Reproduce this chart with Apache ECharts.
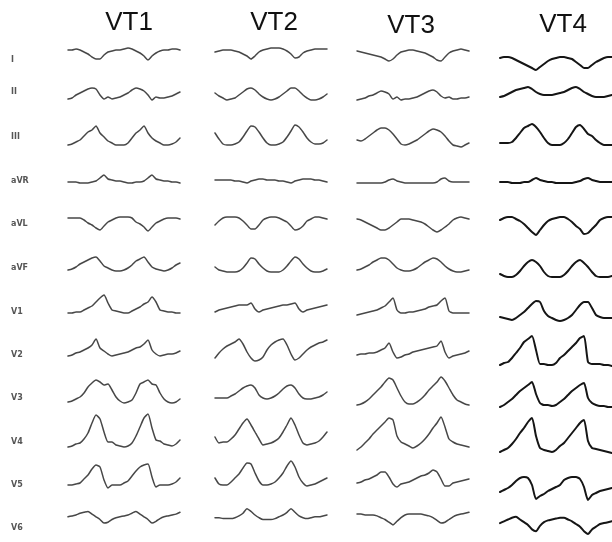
<!DOCTYPE html>
<html><head><meta charset="utf-8">
<script src="https://cdn.jsdelivr.net/npm/echarts@6/dist/echarts.min.js"></script>
<style>html,body{margin:0;padding:0;background:#fff}#c{width:612px;height:542px}</style>
</head><body><div id="c"></div>
<script>
// ---- categories ----
const columns = ['VT1', 'VT2', 'VT3', 'VT4'];
const leads = ['I', 'II', 'III', 'aVR', 'aVL', 'aVF', 'V1', 'V2', 'V3', 'V4', 'V5', 'V6'];

// ---- VT1 traces (amplitude, 29 samples) ----
const vt1_I   = [10,10,11,10,8,6,3,1,1,5,8,9,10,10,11,12,11,9,7,4,0,4,7,9,10,10,11,11,10];
const vt1_II  = [-7,-6,-3,-1,1,3,4,3,-3,-7,-5,-7,-6,-5,-3,-1,2,4,3,1,-3,-8,-5,-6,-6,-5,-4,-2,0];
const vt1_III = [-8,-7,-5,-3,1,5,7,11,4,0,-4,-6,-8,-8,-8,-6,-1,4,7,11,4,-1,-4,-6,-8,-8,-7,-5,-1];
const vt1_aVR = [-1,-1,-1,-2,-2,-2,-1,0,3,6,2,1,0,0,-1,-2,-2,-1,-1,0,3,6,2,1,0,0,-1,-1,-2];
const vt1_aVL = [6,6,6,6,4,1,-1,-4,-6,-2,2,4,6,7,7,7,6,2,0,-3,-7,-3,1,3,5,6,6,6,5];
const vt1_aVF = [-2,-1,1,4,6,8,10,11,7,2,0,-2,-3,-3,-2,0,3,7,9,11,6,1,-1,-2,-3,-2,0,3,5];
const vt1_V1  = [-1,-1,0,0,2,4,6,10,14,17,9,2,1,0,-1,-1,1,3,5,8,10,15,10,2,1,0,0,-1,-1];
const vt1_V2  = [-1,0,2,3,5,7,10,16,7,4,1,-1,0,1,2,3,5,7,8,11,15,5,1,-1,0,1,1,2,4];
const vt1_V3  = [-4,-3,-1,1,5,11,15,18,16,13,14,8,1,-3,-5,-4,-2,5,14,16,18,14,13,5,-1,-4,-5,-4,-1];
const vt1_V4  = [-5,-4,-2,-1,3,9,19,27,23,10,0,0,-3,-4,-5,-4,-1,6,15,24,28,14,2,1,-2,-3,-4,-2,2];
const vt1_V5  = [0,0,1,2,6,10,16,20,18,5,-3,0,0,0,2,4,9,14,18,20,21,8,-2,0,0,0,1,3,7];
const vt1_V6  = [8,9,10,12,13,14,11,8,5,1,2,5,7,8,9,10,12,14,11,8,5,1,3,6,8,9,10,11,13];

// ---- VT2 traces ----
const vt2_I   = [8,9,10,10,10,9,8,6,4,1,4,8,10,11,12,12,12,11,9,6,2,3,7,9,10,11,11,11,11];
const vt2_II  = [-1,-4,-6,-8,-7,-6,-3,0,3,4,2,-2,-5,-7,-8,-7,-5,-2,1,4,4,1,-3,-6,-8,-8,-7,-5,-2];
const vt2_III = [4,-2,-7,-8,-8,-7,-5,0,6,11,10,5,-1,-6,-8,-8,-7,-5,0,6,12,10,5,-1,-5,-7,-7,-6,-3];
const vt2_aVR = [1,1,1,1,1,0,0,-1,-2,0,1,2,2,1,1,1,0,0,-1,-2,0,1,2,2,2,1,1,0,-1];
const vt2_aVL = [-1,3,6,7,7,7,6,3,-1,-5,-5,-1,4,6,7,7,6,4,2,-2,-6,-5,-2,3,5,7,7,6,5];
const vt2_aVF = [1,-2,-3,-4,-4,-4,-3,0,5,10,9,4,0,-3,-4,-4,-4,-2,2,7,11,9,4,0,-3,-4,-4,-3,-1];
const vt2_V1  = [0,2,3,4,5,6,7,7,7,9,3,0,2,3,4,5,6,7,7,8,9,3,0,2,3,4,5,6,7];
const vt2_V2  = [-3,2,6,9,11,13,16,11,3,-3,-6,-5,-2,5,10,13,15,16,10,1,-5,-3,1,5,8,10,12,13,15];
const vt2_V3  = [0,0,0,0,2,4,7,10,12,13,10,3,0,-1,0,2,5,9,12,13,10,4,0,-1,-1,0,1,3,6];
const vt2_V4  = [5,-1,0,0,3,7,13,19,23,17,10,3,-3,-2,-1,1,4,10,17,24,17,7,-1,-3,-2,-1,1,5,10];
const vt2_V5  = [7,1,0,0,3,7,11,17,22,21,12,4,0,0,1,3,7,12,19,24,18,8,2,-1,0,1,3,5,7];
const vt2_V6  = [7,7,6,6,6,7,9,12,17,14,10,7,5,5,5,6,8,10,13,17,13,9,7,6,7,8,8,9,10];

// ---- VT3 traces ----
const vt3_I   = [9,8,7,6,5,4,3,1,-1,1,5,8,9,10,10,9,8,7,5,3,0,-1,3,7,9,10,11,10,9];
const vt3_II  = [-8,-7,-6,-4,-3,-1,1,0,-2,-7,-5,-8,-7,-7,-6,-5,-3,-1,1,2,0,-4,-6,-5,-7,-7,-6,-6,-5];
const vt3_III = [-3,-4,-2,1,4,7,9,9,7,3,-2,-7,-8,-7,-5,-3,0,3,6,8,7,5,1,-4,-8,-9,-10,-8,-6];
const vt3_aVR = [-2,-2,-2,-2,-2,-2,-2,-1,1,2,0,-1,-2,-2,-2,-2,-2,-2,-2,-2,-1,2,3,0,-1,-1,-1,-1,-1];
const vt3_aVL = [5,4,2,0,-2,-4,-6,-6,-4,-1,2,5,5,5,4,3,2,0,-3,-6,-8,-6,-3,0,4,6,7,6,5];
const vt3_aVF = [-2,-1,1,3,6,8,10,10,8,4,0,-2,-3,-3,-2,0,3,6,8,10,9,6,2,-1,-3,-4,-4,-3,-2];
const vt3_V1  = [-3,-2,-1,0,1,2,4,6,10,14,2,-1,-1,0,0,1,2,3,5,6,7,11,14,1,-1,-1,-1,-1,-1];
const vt3_V2  = [0,1,1,2,2,3,5,7,12,3,-3,-2,0,1,3,4,5,6,7,8,9,14,3,-3,-1,0,1,2,4];
const vt3_V3  = [-7,-6,-4,-1,3,7,11,16,20,18,10,2,-4,-6,-6,-4,-1,3,8,12,16,21,17,10,3,-2,-4,-6,-7];
const vt3_V4  = [-8,-5,-1,3,8,12,16,20,24,22,6,0,-2,-4,-6,-4,-1,3,8,14,19,25,15,3,0,-2,-3,-4,-5];
const vt3_V5  = [2,3,5,6,8,10,13,13,8,1,-2,1,2,3,5,7,9,10,12,15,13,6,-1,-1,2,3,4,5,6];
const vt3_V6  = [11,11,10,10,10,9,7,5,2,-1,3,7,10,11,11,11,11,10,9,7,4,1,2,5,8,10,11,12,13];

// ---- VT4 traces ----
const vt4_I   = [2,3,3,2,0,-2,-4,-6,-8,-10,-7,-4,-1,1,2,3,3,2,1,-2,-5,-8,-8,-5,-2,0,2,3,3];
const vt4_II  = [-5,-4,-2,0,2,3,4,5,3,0,-2,-3,-3,-3,-2,-1,0,2,4,5,3,0,-2,-4,-5,-5,-5,-4,-3];
const vt4_III = [-6,-6,-6,-5,-1,4,9,11,13,10,5,-1,-6,-8,-8,-8,-6,-2,4,10,12,8,3,1,-3,-6,-8,-8,-8];
const vt4_aVR = [-1,-1,-1,-2,-2,-2,-1,-1,1,3,1,0,-1,-1,-2,-2,-2,-2,-2,-1,0,2,3,1,0,-1,-1,-1,-1];
const vt4_aVL = [4,6,7,7,5,3,0,-4,-8,-11,-6,-1,3,5,6,7,7,5,2,-2,-5,-10,-9,-5,-1,4,6,7,7];
const vt4_aVF = [-6,-8,-9,-9,-7,-3,2,6,8,6,2,-4,-8,-9,-9,-9,-7,-3,2,6,8,5,1,-4,-8,-9,-9,-9,-8];
const vt4_V1  = [-5,-6,-7,-8,-6,-3,0,4,8,11,10,1,-4,-6,-8,-9,-8,-6,-3,2,7,10,10,4,-3,-5,-6,-6,-6];
const vt4_V2  = [-10,-8,-7,-3,2,7,13,16,19,5,-9,-9,-10,-10,-8,-3,0,4,8,12,17,19,-7,-9,-9,-9,-10,-10,-11];
const vt4_V3  = [-9,-7,-4,-1,3,7,10,13,16,4,-5,-7,-7,-8,-7,-4,-1,3,7,10,13,15,0,-5,-7,-8,-8,-9,-9];
const vt4_V4  = [-10,-8,-6,-2,3,9,14,20,24,6,-6,-8,-9,-10,-8,-4,-1,4,9,14,19,22,1,-6,-7,-8,-9,-10,-11];
const vt4_V5  = [-7,-5,-3,0,4,7,8,7,0,-14,-11,-9,-6,-4,-2,0,5,7,8,8,6,-2,-15,-10,-8,-6,-5,-4,-3];
const vt4_V6  = [1,3,5,7,8,5,2,-1,-6,-8,-2,2,4,5,6,7,7,5,3,0,-3,-8,-11,-6,-3,0,1,2,3];

// ---- assemble ----
const traces = [
  [vt1_I, vt1_II, vt1_III, vt1_aVR, vt1_aVL, vt1_aVF, vt1_V1, vt1_V2, vt1_V3, vt1_V4, vt1_V5, vt1_V6],
  [vt2_I, vt2_II, vt2_III, vt2_aVR, vt2_aVL, vt2_aVF, vt2_V1, vt2_V2, vt2_V3, vt2_V4, vt2_V5, vt2_V6],
  [vt3_I, vt3_II, vt3_III, vt3_aVR, vt3_aVL, vt3_aVF, vt3_V1, vt3_V2, vt3_V3, vt3_V4, vt3_V5, vt3_V6],
  [vt4_I, vt4_II, vt4_III, vt4_aVR, vt4_aVL, vt4_aVF, vt4_V1, vt4_V2, vt4_V3, vt4_V4, vt4_V5, vt4_V6]
];

// ---- layout ----
const colLeft = [68, 215, 357, 500];
const colWidth = 112;
const titleX = [129, 274, 411, 563];
const titleY = [23, 23, 26, 25];
const rowBase = [60, 92, 137, 181, 224, 268, 312, 355, 398, 442, 485, 528];
const lineColor = ['#474747', '#474747', '#474747', '#151515'];
const lineWidth = [1.5, 1.5, 1.5, 2];

const grids = [], xAxes = [], yAxes = [], series = [];
let k = 0;
columns.forEach((col, c) => {
  leads.forEach((lead, r) => {
    const d = traces[c][r];
    grids.push({ left: colLeft[c], width: colWidth, top: rowBase[r] - 40, height: 60 });
    xAxes.push({ type: 'category', gridIndex: k, data: d.map((_, i) => i), boundaryGap: false, show: false });
    yAxes.push({ type: 'value', gridIndex: k, min: -20, max: 40, show: false });
    series.push({
      name: col + ' ' + lead, type: 'line', xAxisIndex: k, yAxisIndex: k, data: d,
      symbol: 'none', smooth: 0.2, clip: false,
      lineStyle: { color: lineColor[c], width: lineWidth[c], join: 'round', cap: 'round' }
    });
    k++;
  });
});

const graphics = [];
columns.forEach((col, c) => {
  graphics.push({ type: 'text', x: titleX[c], y: titleY[c],
    style: { text: col, font: '26px "Liberation Sans", Arial, sans-serif', fill: '#111', textAlign: 'center', textVerticalAlign: 'middle' } });
});
leads.forEach((lead, r) => {
  graphics.push({ type: 'text', x: 11, y: rowBase[r],
    style: { text: lead, font: 'bold 8px "DejaVu Sans", sans-serif', fill: '#555', textAlign: 'left', textVerticalAlign: 'middle' } });
});

const chart = echarts.init(document.getElementById('c'), null, { renderer: 'canvas' });
chart.setOption({
  animation: false,
  backgroundColor: '#fff',
  grid: grids, xAxis: xAxes, yAxis: yAxes, series: series,
  graphic: graphics
});
</script></body></html>
